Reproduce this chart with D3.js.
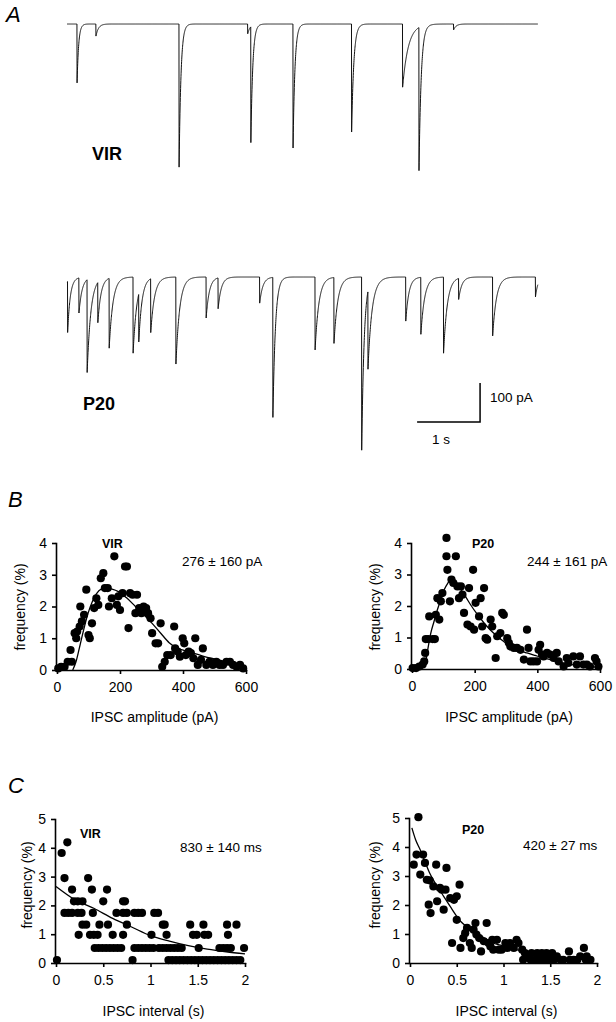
<!DOCTYPE html>
<html>
<head>
<meta charset="utf-8">
<script src="https://cdn.jsdelivr.net/npm/d3@7"></script>
<style>
  body { margin: 0; background: #fff; }
  text { font-family: "Liberation Sans", Arial, sans-serif; fill: #000; }
</style>
</head>
<body>
<svg id="fig" width="616" height="1022"></svg>
<script>
// ---- panel A: spontaneous IPSC traces (events: onset s, amplitude pA, decay s)
const traceDuration = 7.48;
const virEventTimes = [0.16, 0.46, 1.78, 2.87, 2.92, 3.59, 4.52, 5.33, 5.59, 6.14];
const virEventAmps  = [151, 31, 367, 25, 297, 318, 277, 162, 367, 15];
const virEventTaus  = [0.025, 0.04, 0.03, 0.04, 0.03, 0.03, 0.035, 0.09, 0.035, 0.04];

const p20EventTimes = [-0.03, 0.01, 0.19, 0.32, 0.49, 0.67, 1.05, 1.14, 1.33, 1.73, 2.21, 2.40,
                       3.06, 3.27, 3.94, 4.24, 4.68, 4.78, 5.38, 5.62, 5.98, 6.22, 6.76, 7.44];
const p20EventAmps  = [20, 131, 90, 238, 103, 179, 195, 123, 138, 223, 105, 79,
                       67, 359, 187, 169, 444, 200, 113, 146, 195, 54, 151, 51];
const p20EventTaus  = [0.07, 0.04, 0.05, 0.06, 0.05, 0.06, 0.06, 0.05, 0.06, 0.06, 0.05, 0.05,
                       0.05, 0.04, 0.06, 0.06, 0.04, 0.07, 0.05, 0.06, 0.06, 0.05, 0.06, 0.04];

// ---- panel B: amplitude distributions [pA, %]
const ampVirPoints = [[4,0.05],[13,0.1],[24,0.1],[34,0.26],[43,0.63],[47,0.26],[56,1.16],[61,1.0],
  [64,1.21],[72,1.37],[74,2.0],[79,1.53],[86,1.74],[93,2.53],[100,1.1],[104,1.0],[111,1.47],
  [118,1.95],[125,2.26],[131,2.05],[139,2.89],[147,3.05],[152,2.58],[161,2.58],[165,2.0],
  [174,2.26],[182,3.58],[190,2.05],[195,2.32],[200,1.89],[208,2.42],[216,3.26],[222,3.26],
  [227,1.32],[232,2.42],[240,2.37],[249,1.79],[254,2.37],[261,1.95],[268,1.79],[275,2.0],
  [283,1.95],[289,1.79],[297,1.63],[302,1.16],[313,0.84],[321,0.84],[329,1.47],[334,0.1],
  [342,0.26],[350,0.47],[361,0.47],[372,1.37],[375,0.68],[383,0.58],[390,0.42],[399,1.0],
  [404,0.84],[409,0.47],[418,0.58],[425,0.53],[433,0.37],[439,1.0],[447,0.16],[457,0.32],
  [463,0.68],[474,0.16],[484,0.26],[495,0.16],[506,0.26],[516,0.16],[527,0.16],[538,0.26],
  [549,0.26],[559,0.16],[570,0.1],[581,0.16],[591,0.05]];
const ampVirFit = [[50,0],[60,0.25],[70,0.65],[77,0.95],[88,1.4],[99,1.8],[112,2.15],[125,2.4],
  [140,2.55],[155,2.58],[175,2.55],[195,2.47],[220,2.28],[249,2.0],[275,1.75],[302,1.47],
  [330,1.15],[356,0.86],[380,0.7],[409,0.6],[435,0.52],[463,0.44],[490,0.37],[516,0.31],
  [545,0.25],[570,0.21],[590,0.18]];

const ampP20Points = [[2,0.03],[13,0.03],[23,0.08],[34,0.14],[39,0.24],[42,0.51],[44,0.95],
  [52,0.95],[55,1.67],[66,0.95],[73,0.95],[76,1.72],[81,2.25],[87,1.57],[92,2.15],[97,2.41],
  [110,4.16],[110,3.58],[113,3.15],[121,2.15],[126,2.84],[132,2.73],[140,3.58],[145,2.62],
  [150,2.25],[156,2.62],[161,2.36],[166,1.78],[177,1.41],[182,2.57],[187,1.35],[195,3.15],
  [198,1.25],[203,2.1],[214,1.67],[219,2.25],[224,1.35],[230,2.57],[235,0.98],[240,0.93],
  [251,1.57],[256,1.35],[267,0.35],[272,1.04],[282,1.14],[288,1.78],[293,1.72],[304,0.98],
  [309,0.83],[314,0.72],[325,0.67],[335,0.67],[346,0.61],[357,0.3],[367,1.25],[372,0.67],
  [378,0.24],[388,0.24],[399,0.24],[404,0.61],[409,0.77],[415,0.46],[420,0.4],[431,0.51],
  [441,0.46],[452,0.35],[462,0.51],[468,0.24],[484,0.08],[494,0.35],[499,0.19],[515,0.4],
  [526,0.14],[536,0.4],[547,0.14],[558,0.14],[568,0.08],[584,0.35],[589,0.24],[595,0.08]];
const ampP20Fit = [[42,0.1],[50,0.6],[60,1.14],[70,1.5],[81,1.88],[92,2.2],[103,2.52],[114,2.72],
  [124,2.84],[140,2.7],[156,2.52],[172,2.28],[187,2.04],[208,1.74],[230,1.46],[250,1.24],
  [272,1.04],[293,0.87],[314,0.72],[340,0.6],[367,0.51],[393,0.43],[420,0.35],[452,0.27],
  [484,0.19],[515,0.13],[547,0.09],[575,0.07],[600,0.06]];

// ---- panel C: interval distributions [s, %]
const intVirPoints = [
  [0.01,0.1],[0.81,0.1],[1.19,0.1],[1.23,0.1],[1.27,0.1],[1.31,0.1],[1.35,0.1],[1.39,0.1],
  [1.43,0.1],[1.47,0.1],[1.51,0.1],[1.55,0.1],[1.59,0.1],[1.63,0.1],[1.67,0.1],[1.71,0.1],
  [1.75,0.1],[1.79,0.1],[1.83,0.1],[1.87,0.1],[1.91,0.1],[1.95,0.1],
  [0.41,0.52],[0.45,0.52],[0.49,0.52],[0.53,0.52],[0.57,0.52],[0.61,0.52],[0.65,0.52],[0.69,0.52],
  [0.83,0.52],[0.87,0.52],[0.91,0.52],[0.95,0.52],[0.99,0.52],[1.03,0.52],[1.09,0.52],[1.13,0.52],
  [1.17,0.52],[1.21,0.52],[1.25,0.52],[1.29,0.52],[1.33,0.52],[1.51,0.52],[1.73,0.52],[1.77,0.52],
  [1.81,0.52],[1.85,0.52],[1.99,0.52],
  [0.24,0.98],[0.36,0.98],[0.40,0.98],[0.44,0.98],[0.60,0.98],[0.71,0.98],[1.01,0.98],[1.17,0.98],
  [1.45,0.98],[1.49,0.98],[1.57,0.98],[1.61,0.98],[1.82,0.98],
  [0.28,1.33],[0.32,1.33],[0.46,1.33],[0.55,1.33],[0.75,1.33],[1.13,1.33],[1.15,1.33],[1.42,1.33],
  [1.56,1.33],[1.81,1.33],[1.91,1.33],
  [0.09,1.74],[0.13,1.74],[0.17,1.74],[0.23,1.74],[0.27,1.74],[0.39,1.74],[0.64,1.74],[0.71,1.74],
  [0.75,1.74],[0.83,1.74],[0.87,1.74],[0.91,1.74],[1.04,1.74],[1.08,1.74],
  [0.19,2.14],[0.23,2.14],[0.28,2.14],[0.50,2.14],[0.71,2.14],[0.73,2.14],
  [0.17,2.55],[0.38,2.55],[0.54,2.55],[0.09,2.95],[0.34,2.95],[0.06,3.82],[0.12,4.19]];
const intVirFit = [[0,2.66],[0.2,2.2],[0.4,1.9],[0.6,1.55],[0.8,1.25],[1.0,0.95],[1.2,0.76],
  [1.4,0.6],[1.6,0.48],[1.8,0.39],[2.0,0.32]];

const intP20Points = [[0.09,5.03],[0.04,3.39],[0.07,3.74],[0.14,3.74],[0.11,3.05],[0.16,3.45],
  [0.18,2.87],[0.21,2.85],[0.2,2.01],[0.22,1.72],[0.25,2.64],[0.28,3.39],[0.29,2.13],[0.32,2.59],
  [0.34,2.53],[0.36,1.84],[0.38,2.53],[0.39,3.28],[0.43,2.24],[0.45,0.69],[0.47,2.18],[0.5,2.3],
  [0.5,1.49],[0.53,2.7],[0.54,0.52],[0.57,0.86],[0.59,1.03],[0.61,1.21],[0.64,0.69],[0.66,0.52],
  [0.68,1.15],[0.7,1.38],[0.71,0.98],[0.74,0.86],[0.76,0.4],[0.79,0.75],[0.82,1.38],[0.84,0.69],
  [0.86,0.57],[0.88,0.8],[0.89,0.46],[0.93,0.8],[0.95,0.46],[0.98,0.46],[1.02,0.69],[1.04,0.52],
  [1.07,0.69],[1.11,0.52],[1.14,0.8],[1.16,0.69],[1.2,0.46],[1.21,0.11],[1.23,0.34],[1.27,0.23],
  [1.29,0.11],[1.3,0.34],[1.34,0.11],[1.36,0.34],[1.39,0.11],[1.41,0.34],[1.43,0.11],[1.46,0.34],
  [1.48,0.11],[1.52,0.34],[1.54,0.11],[1.57,0.23],[1.61,0.11],[1.64,0.11],[1.7,0.4],[1.71,0.11],
  [1.75,0.11],[1.79,0.11],[1.82,0.23],[1.86,0.52],[1.88,0.11],[1.89,0.23],[1.93,0.11]];
const intP20Fit = [[0.02,4.66],[0.06,4.25],[0.11,3.9],[0.16,3.5],[0.21,3.1],[0.28,2.7],[0.36,2.3],
  [0.45,1.85],[0.54,1.44],[0.62,1.22],[0.71,1.03],[0.8,0.85],[0.89,0.69],[0.98,0.6],[1.07,0.52],
  [1.16,0.44],[1.25,0.37],[1.34,0.33],[1.43,0.29]];

const ampTicks = [0, 200, 400, 600];
const freqTicksB = [0, 1, 2, 3, 4];
const intTicks = [0, 0.5, 1, 1.5, 2];
const freqTicksC = [0, 1, 2, 3, 4, 5];

const svg = d3.select('#fig');
svg.append('rect').attr('width', 616).attr('height', 1022).attr('fill', '#fff');

// panel letters
[['A', 6, 22], ['B', 8, 507], ['C', 8, 793]].forEach(([t, x, y]) => {
  svg.append('text').attr('x', x).attr('y', y)
    .style('font-size', '22px').style('font-style', 'italic').text(t);
});

// ---- traces
const tx = d3.scaleLinear().domain([0, traceDuration]).range([67, 538]);
const sampleTimes = d3.range(0, traceDuration, 0.002);

function drawTrace(times, amps, taus, baseline, label, labelPos) {
  const ty = d3.scaleLinear().domain([0, -100]).range([baseline, baseline + 39]);
  const wave = sampleTimes.map(t => {
    let i = 0;
    times.forEach((t0, k) => {
      if (t >= t0) i -= amps[k] * Math.exp(-(t - t0) / taus[k]);
    });
    return [t, i];
  });
  svg.append('path')
    .datum(wave)
    .attr('d', d3.line().x(d => tx(d[0])).y(d => ty(d[1])))
    .attr('fill', 'none').attr('stroke', '#111').attr('stroke-width', 1);
  svg.append('text').attr('x', labelPos[0]).attr('y', labelPos[1])
    .style('font-size', '18px').style('font-weight', 'bold').text(label);
  return ty;
}

drawTrace(virEventTimes, virEventAmps, virEventTaus, 24, 'VIR', [92, 160]);
const tyP20 = drawTrace(p20EventTimes, p20EventAmps, p20EventTaus, 277, 'P20', [83, 410]);

// scale bar: 1 s, 100 pA
const barRight = tx(6.56), barBottom = tyP20(-372);
svg.append('path')
  .attr('d', `M${barRight - (tx(1) - tx(0))},${barBottom}H${barRight}V${barBottom - (tyP20(-100) - tyP20(0))}`)
  .attr('fill', 'none').attr('stroke', '#000').attr('stroke-width', 1.5);
svg.append('text').attr('x', barRight + 10).attr('y', barBottom - 20)
  .style('font-size', '13.5px').text('100 pA');
svg.append('text').attr('x', barRight - 39).attr('y', barBottom + 22)
  .attr('text-anchor', 'middle').style('font-size', '13.5px').text('1 s');

// ---- scatter panels
function scatterPanel(o) {
  const x = d3.scaleLinear().domain(o.xDomain).range(o.xRange);
  const y = d3.scaleLinear().domain(o.yDomain).range(o.yRange);
  const g = svg.append('g');

  g.append('g').attr('transform', `translate(0,${o.yRange[0]})`)
    .call(d3.axisBottom(x).tickValues(o.xTicks).tickFormat(d => d).tickSize(4).tickSizeOuter(0).tickPadding(8))
    .call(a => a.selectAll('path,line').attr('stroke', '#000').attr('stroke-width', 1.6))
    .call(a => a.selectAll('text').style('font-size', '14px').attr('fill', '#000'));
  g.append('g').attr('transform', `translate(${o.xRange[0] - 1},0)`)
    .call(d3.axisLeft(y).tickValues(o.yTicks).tickFormat(d => d).tickSize(4).tickSizeOuter(0).tickPadding(5))
    .call(a => a.selectAll('path,line').attr('stroke', '#000').attr('stroke-width', 1.6))
    .call(a => a.selectAll('text').style('font-size', '14px').attr('fill', '#000'));
  g.selectAll('.domain').attr('stroke-linecap', 'square');

  g.selectAll('circle').data(o.points).enter().append('circle')
    .attr('cx', d => x(d[0])).attr('cy', d => y(d[1])).attr('r', 4.1).attr('fill', '#000');

  g.append('path').datum(o.fit)
    .attr('d', d3.line().x(d => x(d[0])).y(d => y(d[1])).curve(d3.curveMonotoneX))
    .attr('fill', 'none').attr('stroke', '#000').attr('stroke-width', 1.3);

  g.append('text').attr('x', o.namePos[0]).attr('y', o.namePos[1])
    .style('font-size', '12.5px').style('font-weight', 'bold').text(o.name);
  g.append('text').attr('x', o.statPos[0]).attr('y', o.statPos[1])
    .style('font-size', '13.5px').text(o.stat);
  g.append('text').attr('x', d3.mean(o.xRange) + 3).attr('y', o.xLabelY)
    .attr('text-anchor', 'middle').style('font-size', '14px').text(o.xLabel);
  g.append('text').attr('transform', `translate(${o.yLabelPos[0]},${o.yLabelPos[1]}) rotate(-90)`)
    .attr('dy', '0.35em').attr('text-anchor', 'middle').style('font-size', '14px').text('frequency (%)');
}

scatterPanel({ xDomain: [0, 600], yDomain: [0, 4], xRange: [57, 246], yRange: [670, 543],
  xTicks: ampTicks, yTicks: freqTicksB, points: ampVirPoints, fit: ampVirFit,
  name: 'VIR', namePos: [102, 548], stat: '276 ± 160 pA', statPos: [182, 566],
  xLabel: 'IPSC amplitude (pA)', xLabelY: 722, yLabelPos: [20, 607] });
scatterPanel({ xDomain: [0, 600], yDomain: [0, 4], xRange: [412, 600], yRange: [669, 543],
  xTicks: ampTicks, yTicks: freqTicksB, points: ampP20Points, fit: ampP20Fit,
  name: 'P20', namePos: [472, 548], stat: '244 ± 161 pA', statPos: [527, 566],
  xLabel: 'IPSC amplitude (pA)', xLabelY: 722, yLabelPos: [375, 607] });
scatterPanel({ xDomain: [0, 2], yDomain: [0, 5], xRange: [56, 245], yRange: [963, 819],
  xTicks: intTicks, yTicks: freqTicksC, points: intVirPoints, fit: intVirFit,
  name: 'VIR', namePos: [80, 838], stat: '830 ± 140 ms', statPos: [180, 852],
  xLabel: 'IPSC interval (s)', xLabelY: 1016, yLabelPos: [27, 885] });
scatterPanel({ xDomain: [0, 2], yDomain: [0, 5], xRange: [410, 597], yRange: [963, 818],
  xTicks: intTicks, yTicks: freqTicksC, points: intP20Points, fit: intP20Fit,
  name: 'P20', namePos: [462, 834], stat: '420 ± 27 ms', statPos: [523, 850],
  xLabel: 'IPSC interval (s)', xLabelY: 1016, yLabelPos: [375, 885] });
</script>
</body>
</html>
